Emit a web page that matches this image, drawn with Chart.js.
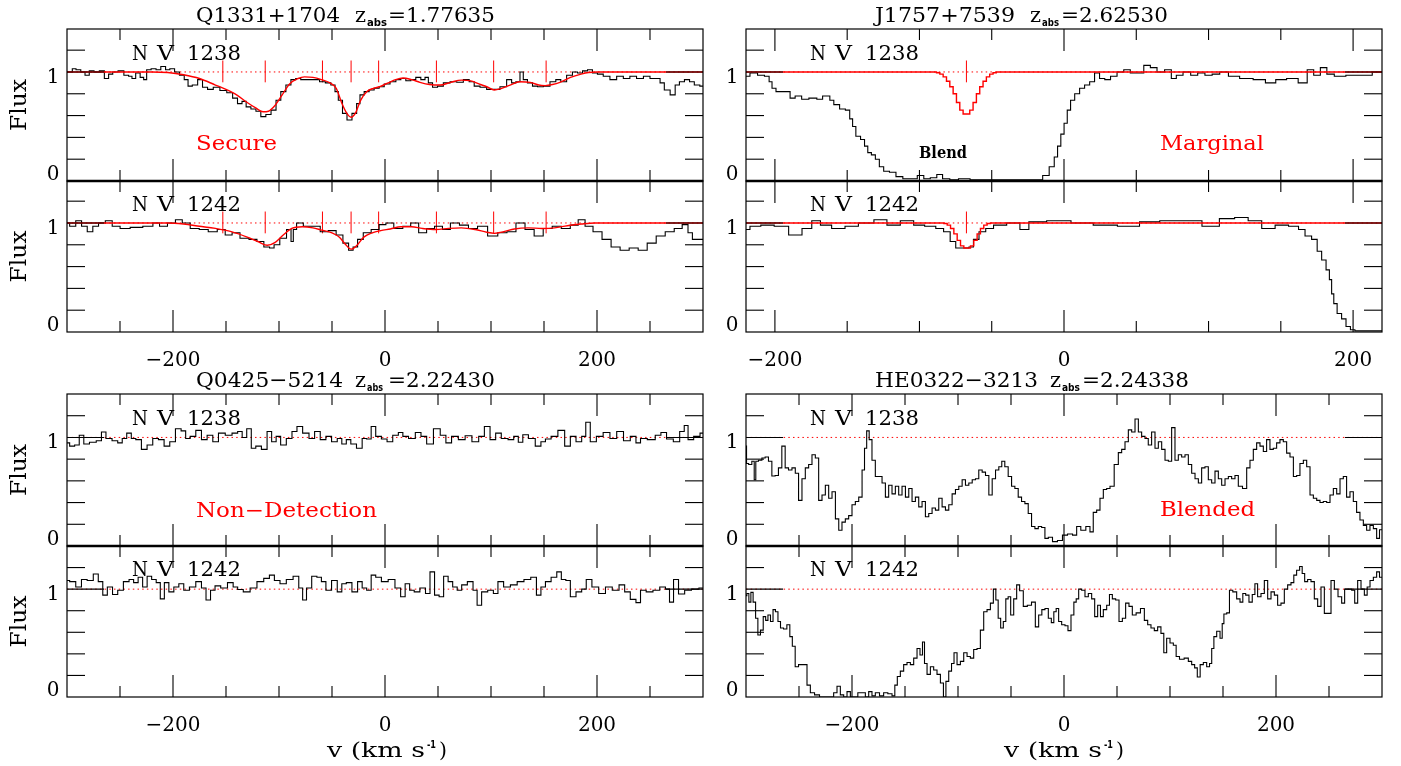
<!DOCTYPE html>
<html>
<head>
<meta charset="utf-8">
<title>N V 1238/1242 velocity plots</title>
<script src="https://cdn.jsdelivr.net/npm/chart.js@4.4.1/dist/chart.umd.min.js"></script>
<style>
  body { margin: 0; background: #fff; }
  #fig { position: relative; width: 1401px; height: 766px; overflow: hidden; }
  #fig canvas { position: absolute; left: 0; top: 0; }
</style>
</head>
<body>
<div id="fig"></div>
<script>
// ---------------------------------------------------------------
// Data: [velocity (km/s), normalised flux]
// ---------------------------------------------------------------
const X_TICK_LABELS = [-200, 0, 200];
const Y_TICK_LABELS = [0, 1];

// Q1331+1704, z_abs = 1.77635  (Secure)
const Q1331_COMPONENTS = [-153, -113, -59, -32, -6, 48.5, 102.5, 152];
const Q1331_NV1238 = [
  [-300,1.00],[-296,1.00],[-294,1.03],[-289,1.02],[-285,1.00],[-281,0.97],[-277,1.01],[-272,1.00],
  [-267,1.01],[-262.5,0.94],[-259,0.98],[-254.7,1.00],[-249,1.01],[-243.7,0.97],[-240,0.96],[-237.4,0.94],
  [-233,0.99],[-229,0.95],[-226.4,0.93],[-223.3,1.02],[-218,1.03],[-214,1.02],[-209,1.05],[-205,1.02],
  [-201,1.03],[-196,1.00],[-191.8,0.97],[-187,0.93],[-184.6,0.87],[-179,0.88],[-174.5,0.93],[-169.8,0.86],
  [-165,0.84],[-159,0.86],[-152.5,0.83],[-146,0.81],[-141.5,0.76],[-136.8,0.71],[-133,0.73],[-129,0.68],
  [-124,0.66],[-119.5,0.64],[-114.8,0.59],[-110,0.61],[-105,0.65],[-100.6,0.74],[-96,0.82],[-91,0.88],
  [-86.5,0.93],[-82,0.94],[-77,0.93],[-70,0.93],[-64.5,0.93],[-59,0.91],[-53.5,0.90],[-48.7,0.88],
  [-45.6,0.82],[-42.5,0.74],[-37.7,0.62],[-34,0.56],[-28.3,0.62],[-25.2,0.71],[-22,0.79],[-17.3,0.82],
  [-12.6,0.835],[-7.9,0.85],[-3.1,0.865],[1.6,0.89],[7.9,0.91],[12.6,0.93],[17.3,0.94],[22,0.92],
  [26.7,0.93],[31.4,0.95],[36.2,0.93],[39.3,0.95],[42.5,0.90],[47.2,0.86],[51.9,0.87],[58.2,0.90],
  [64.5,0.91],[70.8,0.905],[77,0.93],[81.8,0.91],[86.5,0.87],[92.8,0.86],[99,0.84],[105.3,0.84],
  [111.6,0.865],[117.9,0.93],[121,0.90],[125.8,0.91],[128.9,1.00],[132,0.93],[136.8,0.90],[141.5,0.87],
  [146.2,0.865],[152.5,0.87],[158.8,0.91],[163.5,0.93],[168.2,0.91],[174.5,0.97],[179.2,1.00],[184,0.99],
  [188.7,1.01],[193.4,1.02],[198,0.99],[202.8,0.98],[209,0.96],[215.4,0.93],[221.7,0.96],[228,0.94],
  [234,0.96],[240.6,0.94],[247,0.96],[253,0.94],[258,0.94],[261,0.90],[266,0.835],[272,0.79],
  [275.5,0.88],[280,0.91],[285,0.93],[289.6,0.91],[294,0.88],[300,0.87]
];
const Q1331_NV1238_FIT = [
  [-300,1],[-220,1],[-205,0.995],[-190,0.975],[-175,0.94],[-160,0.88],[-150,0.84],[-140,0.79],
  [-130,0.72],[-122,0.67],[-115,0.635],[-110,0.64],[-104,0.69],[-97,0.79],[-90,0.89],[-82,0.94],
  [-76,0.955],[-68,0.95],[-60,0.93],[-52,0.90],[-46,0.85],[-41,0.72],[-36,0.62],[-32,0.585],
  [-28,0.62],[-23,0.74],[-17,0.82],[-11,0.85],[-5,0.865],[3,0.90],[10,0.93],[17,0.945],
  [25,0.93],[33,0.905],[42,0.885],[52,0.88],[62,0.905],[72,0.925],[80,0.92],[90,0.885],
  [97,0.86],[103,0.835],[110,0.85],[118,0.88],[127,0.91],[137,0.905],[145,0.88],[151,0.875],
  [158,0.885],[165,0.905],[175,0.95],[185,0.98],[192,0.995],[200,1],[300,1]
];
const Q1331_NV1242 = [
  [-300,1.00],[-295,0.97],[-288.5,1.02],[-284,0.97],[-277.8,0.92],[-273.5,0.97],[-267,1.00],[-260.7,1.02],
  [-254,0.97],[-245.8,0.95],[-235,0.96],[-222,0.97],[-215.9,1.00],[-209.5,0.97],[-200.9,1.00],[-194.5,1.03],
  [-188,1.00],[-179.5,0.95],[-171,0.94],[-162.5,0.92],[-154,0.94],[-147.5,0.89],[-141,0.91],[-132.6,0.86],
  [-124,0.85],[-117.6,0.83],[-111,0.78],[-106.8,0.77],[-102.5,0.80],[-96,0.86],[-89.8,0.94],[-87.5,0.83],
  [-85.5,0.94],[-81.3,1.00],[-72.8,0.97],[-64.3,0.97],[-57.9,0.92],[-49.3,0.93],[-42.9,0.89],[-36.5,0.815],
  [-32.2,0.75],[-28,0.78],[-23.7,0.85],[-17.3,0.91],[-8.8,0.94],[-2.3,0.985],[4,1.00],[12.6,0.95],
  [21,0.97],[27.5,1.00],[36,0.91],[42.5,0.95],[51,0.97],[57.4,0.94],[66,1.00],[74.5,0.98],
  [83,0.95],[91.6,0.97],[102,0.88],[110.8,0.91],[119.3,0.92],[127.8,1.00],[136.4,0.94],[145,0.88],
  [153.5,0.95],[162,0.97],[170.6,0.95],[179,0.98],[185.5,1.03],[192,0.97],[200.5,0.92],[209,0.85],
  [217.6,0.78],[226,0.75],[234.7,0.77],[243,0.75],[251.7,0.815],[260,0.88],[268.7,0.92],[277,0.95],
  [283.7,0.985],[288,0.91],[292,0.85],[300,0.85]
];
const Q1331_NV1242_FIT = [
  [-300,1],[-205,1],[-190,0.99],[-175,0.97],[-160,0.95],[-145,0.92],[-130,0.87],[-120,0.83],
  [-111,0.795],[-104,0.82],[-96,0.89],[-88,0.95],[-78,0.965],[-68,0.955],[-60,0.935],[-50,0.91],
  [-43,0.87],[-37,0.80],[-32,0.76],[-27,0.79],[-20,0.87],[-12,0.91],[-4,0.93],[5,0.945],
  [15,0.965],[25,0.965],[35,0.95],[48,0.94],[60,0.95],[72,0.955],[85,0.94],[96,0.915],
  [103,0.905],[112,0.92],[122,0.945],[135,0.955],[148,0.95],[160,0.955],[172,0.975],[185,0.99],
  [198,1],[300,1]
];

// J1757+7539, z_abs = 2.62530  (Marginal)
const J1757_COMPONENTS = [-67.5];
const J1757_NV1238 = [
  [-220,0.96],[-214.5,0.99],[-209.5,0.97],[-205,0.96],[-203,0.91],[-201,0.85],[-197.5,0.82],[-191,0.82],
  [-188,0.76],[-184,0.78],[-179,0.75],[-174,0.76],[-168,0.75],[-166,0.78],[-163,0.78],[-161,0.74],
  [-157.5,0.70],[-153,0.66],[-149.5,0.65],[-147,0.57],[-145.5,0.50],[-142.5,0.41],[-139,0.38],[-137,0.32],
  [-134.5,0.26],[-132,0.24],[-129,0.20],[-126.5,0.13],[-123,0.09],[-118.5,0.08],[-114,0.04],[-109,0.02],
  [-104,0.02],[-99,0.05],[-95,0.02],[-90,0.03],[-86,0.06],[-82,0.02],[-76,0.01],[-70,0.02],
  [-60,0.01],[-50,0.01],[-40,0.01],[-30,0.01],[-22,0.01],[-17,0.01],[-12.5,0.05],[-8,0.13],
  [-5.5,0.22],[-3.4,0.32],[-1,0.43],[1.1,0.53],[3.4,0.65],[5.7,0.74],[9.1,0.80],[12.5,0.85],
  [16,0.88],[19.5,0.91],[22.8,0.99],[26.4,0.94],[30,0.93],[34.4,0.96],[39,1.00],[43.7,1.02],
  [48,0.99],[52.9,0.99],[57.5,1.06],[62,1.04],[66.7,1.00],[72.5,1.02],[76,0.94],[79.4,0.97],
  [85.3,1.00],[90,0.97],[95,0.99],[100,0.97],[105,0.98],[110.5,1.00],[117,0.96],[126,0.94],
  [135.7,0.93],[143,0.90],[150,0.93],[158,0.94],[166,0.90],[170.5,1.02],[175,0.97],[179.7,1.04],
  [184,0.98],[190,0.96],[200,0.97],[210,0.97],[216.5,1.00],[220,1.00]
];
const J1757_NV1238_FIT = [
  [-220,1],[-89.35,1],[-87.05,0.993],[-84.75,0.98],[-82.45,0.955],[-80.15,0.915],[-77.85,0.865],
  [-75.55,0.80],[-73.25,0.72],[-70.95,0.65],[-68.65,0.615],[-66.35,0.615],[-64.05,0.65],[-61.75,0.72],
  [-59.45,0.80],[-57.15,0.865],[-54.85,0.915],[-52.55,0.955],[-50.25,0.98],[-47.95,0.993],[-45.65,1],[220,1]
];
const J1757_NV1242 = [
  [-220,0.94],[-214.5,0.97],[-205,0.98],[-196,0.97],[-185,0.89],[-177.5,0.95],[-171.5,1.02],[-165.5,0.98],
  [-156,0.95],[-147,0.97],[-137.5,1.00],[-125.5,1.03],[-119.5,0.98],[-107,1.02],[-101,0.98],[-91.8,0.97],
  [-85.6,0.95],[-81,0.92],[-76.5,0.83],[-73.3,0.77],[-67.3,0.77],[-64.2,0.78],[-61.1,0.85],[-56.5,0.92],
  [-51.8,0.95],[-45.7,0.98],[-33.6,1.00],[-27.4,0.94],[-21.2,1.01],[-2.8,1.02],[12.5,1.00],[27.9,0.98],
  [46,0.97],[58.5,1.01],[74,1.02],[89.4,1.02],[101.5,0.97],[113.5,1.04],[122.6,1.05],[132.2,1.02],
  [141.4,0.95],[150.7,0.98],[160,0.97],[164.5,0.94],[169,0.88],[173.6,0.85],[176.7,0.74],[179.8,0.66],
  [182.8,0.57],[184.4,0.48],[185.9,0.35],[187.4,0.26],[190.5,0.17],[193.6,0.12],[196.6,0.05],[199.7,0.02],
  [202.8,0.01],[210,0.01],[220,0.01]
];
const J1757_NV1242_FIT = [
  [-220,1],[-84.25,1],[-81.95,0.995],[-79.65,0.98],[-77.35,0.95],[-75.05,0.90],[-72.75,0.84],
  [-70.45,0.79],[-68.15,0.77],[-65.85,0.77],[-63.55,0.79],[-61.25,0.84],[-58.95,0.90],[-56.65,0.95],
  [-54.35,0.98],[-52.05,0.995],[-49.75,1],[220,1]
];

// Q0425-5214, z_abs = 2.22430  (Non-Detection)
const Q0425_NV1238 = [
  [-300,0.95],[-295,0.92],[-290.6,0.93],[-286.3,1.02],[-282,0.94],[-275.6,0.955],[-269.2,0.97],[-265.8,1.05],
  [-260.7,0.99],[-254.3,0.97],[-250,0.95],[-245.8,0.99],[-241.5,1.04],[-237.2,0.99],[-233,0.98],[-226.6,0.89],
  [-222.3,0.93],[-215.9,0.99],[-211.6,0.98],[-205.2,0.92],[-200.9,0.96],[-194.5,1.08],[-190.2,1.06],[-185.9,0.99],
  [-181.7,1.01],[-175.3,1.065],[-171,0.98],[-164.6,1.02],[-160.3,0.96],[-153.9,1.04],[-147.5,1.02],[-141.1,1.04],
  [-136.9,1.055],[-132.6,1.00],[-128.3,1.08],[-124,0.90],[-119.8,0.92],[-113.4,0.89],[-109.1,1.055],[-104.8,0.96],
  [-100.6,1.01],[-96.3,0.93],[-89.9,0.99],[-85.6,1.055],[-80.5,1.10],[-74.9,1.04],[-68.5,0.99],[-64.3,1.055],
  [-57.9,0.98],[-53.6,1.01],[-47.2,0.96],[-42.9,0.99],[-38.6,0.94],[-34.4,0.98],[-30.1,0.94],[-23.7,0.90],
  [-19.4,0.99],[-15.2,0.985],[-10.9,1.10],[-6.6,1.01],[-0.2,0.985],[4.1,0.96],[10.5,1.02],[14.7,1.045],
  [19,1.01],[25.4,0.99],[31.8,1.045],[36.1,1.01],[42.5,0.94],[48.9,1.08],[55.3,1.02],[59.6,0.95],
  [66,1.01],[72.4,0.98],[78.8,1.015],[85.2,0.96],[91.6,1.01],[95.9,1.10],[102.3,0.98],[106.5,1.04],
  [112.9,0.99],[119.3,0.98],[123.6,1.01],[127.9,0.955],[132.1,1.025],[138.5,0.99],[145,0.92],[149.2,0.96],
  [153.5,0.985],[159.9,1.01],[166.3,1.065],[172.7,0.92],[177,1.01],[183.4,0.96],[187.7,1.01],[191.1,1.14],
  [196.2,0.96],[202.6,1.01],[209,1.045],[215.4,0.99],[221.8,1.055],[228.2,0.97],[234.6,1.01],[238.9,0.95],
  [243.2,0.99],[251.7,0.98],[258.2,1.02],[262.4,1.045],[268.8,0.985],[275.2,0.96],[280.8,1.055],[283.8,1.11],
  [288,0.98],[294.4,1.01],[300,1.04]
];
const Q0425_NV1242 = [
  [-300,1.08],[-295,1.07],[-288.5,1.02],[-284.2,1.09],[-277.8,1.08],[-272.6,1.14],[-268.4,1.07],[-264.1,0.945],
  [-259.8,1.02],[-254.3,0.95],[-250,0.99],[-243.6,1.07],[-239.3,1.09],[-235,1.06],[-230.8,1.11],[-226.5,1.02],
  [-222.3,1.12],[-218,1.09],[-213.7,1.06],[-210.3,0.91],[-206,1.06],[-201.8,0.975],[-196.6,1.02],[-192.4,1.05],
  [-187.3,0.99],[-181.7,1.02],[-175.3,1.07],[-171,1.01],[-166.7,0.90],[-162.5,0.99],[-158.2,1.03],[-151.8,1.01],
  [-145.4,1.06],[-141.1,1.02],[-136.9,0.997],[-130.5,0.975],[-124,1.01],[-117.6,1.07],[-111.2,1.10],[-106.9,1.13],
  [-101.8,1.08],[-96.3,1.05],[-89.9,1.09],[-83.5,1.12],[-79.2,1.01],[-76.2,0.90],[-71.9,1.01],[-66.4,1.12],
  [-62.1,1.11],[-57.9,1.07],[-53.6,0.99],[-47.2,1.08],[-42.9,0.975],[-38.6,1.05],[-34.4,1.06],[-28,0.975],
  [-23.7,1.07],[-19.4,1.01],[-15.2,0.99],[-10.9,1.13],[-6.6,1.11],[-0.2,1.07],[6.2,1.09],[12.6,1.01],
  [16.9,0.93],[21.1,1.05],[25.4,0.99],[29.7,0.975],[36.1,1.01],[40.3,0.96],[44.6,1.16],[48.9,0.945],
  [53.2,0.93],[57.4,1.12],[61.7,1.07],[66,1.02],[70.2,0.99],[74.5,1.04],[80.9,1.07],[85.2,0.99],
  [88.6,0.85],[93.7,0.975],[100.1,0.99],[104.4,0.96],[108.7,1.07],[115.1,1.02],[121.5,1.04],[127.9,1.07],
  [134.3,1.09],[140.7,1.11],[145,0.945],[149.2,1.02],[153.5,1.07],[159.9,1.11],[164.2,1.16],[168.5,1.09],
  [172.7,1.08],[177,0.93],[183.4,0.975],[187.7,1.00],[192,1.09],[198.4,1.02],[204.8,0.96],[211.2,1.02],
  [217.6,0.99],[224,1.04],[228.2,0.975],[234.6,0.905],[238.9,0.875],[243.2,0.99],[249.6,0.975],[256,0.99],
  [262.4,1.02],[266.7,1.00],[270.1,0.88],[274.3,1.09],[279.5,0.955],[285.9,0.99],[292.3,1.00],[300,1.01]
];

// HE0322-3213, z_abs = 2.24338  (Blended)
const HE0322_NV1238 = [
  [-300,0.92],[-299,0.76],[-296,0.75],[-293,0.78],[-291.5,0.61],[-290,0.78],[-286.5,0.79],[-283.5,0.81],
  [-280.4,0.82],[-277.2,0.78],[-274,0.645],[-271,0.65],[-267.8,0.72],[-264.6,0.92],[-261.5,0.72],[-258.3,0.70],
  [-255,0.72],[-252,0.67],[-248.8,0.42],[-245.6,0.62],[-242.5,0.72],[-239.3,0.75],[-236.2,0.84],[-233,0.81],
  [-229.9,0.42],[-226.7,0.47],[-223.6,0.56],[-220.4,0.44],[-217.3,0.50],[-214,0.25],[-211,0.145],[-207.9,0.22],
  [-204.7,0.25],[-201.6,0.28],[-198.4,0.38],[-195.3,0.41],[-192,0.45],[-189,0.70],[-187.4,0.90],[-184.9,1.06],
  [-182.7,0.98],[-179.6,0.79],[-176.4,0.64],[-173.3,0.64],[-170,0.58],[-167,0.45],[-163.8,0.56],[-160.7,0.48],
  [-157.5,0.55],[-154.4,0.47],[-151.2,0.55],[-148,0.45],[-144.9,0.53],[-141.8,0.41],[-138.6,0.45],[-135.5,0.36],
  [-132.3,0.41],[-129.2,0.27],[-126,0.30],[-122.9,0.35],[-119.7,0.33],[-116.6,0.44],[-113.4,0.36],[-110.3,0.33],
  [-107.1,0.38],[-104,0.48],[-100.8,0.52],[-97.7,0.55],[-94.5,0.61],[-91.4,0.56],[-88.2,0.58],[-85,0.61],
  [-82,0.62],[-78.8,0.70],[-75.6,0.68],[-72.5,0.65],[-69.3,0.47],[-66.2,0.62],[-63,0.70],[-60,0.73],
  [-57.4,0.78],[-54.3,0.73],[-51,0.64],[-47.9,0.55],[-44.8,0.53],[-41.6,0.45],[-38.5,0.41],[-35.3,0.39],
  [-32.2,0.30],[-29,0.18],[-25.9,0.16],[-22.6,0.18],[-19.6,0.17],[-16.4,0.07],[-13.2,0.08],[-8.5,0.04],
  [-3.8,0.05],[0.9,0.10],[5.7,0.11],[10.4,0.10],[13.5,0.18],[18.2,0.145],[23,0.18],[26,0.13],
  [29.2,0.31],[32.4,0.33],[35.5,0.44],[38.7,0.52],[41.8,0.53],[45,0.55],[49.7,0.75],[52.8,0.86],
  [56,0.89],[59.1,0.96],[62.3,1.07],[65.4,1.05],[68.6,1.17],[71.7,1.05],[74.8,1.01],[78,0.99],
  [81,0.93],[84.3,1.05],[87.4,0.90],[90.6,0.96],[93.7,0.89],[96.9,0.79],[100,0.78],[103.1,1.09],
  [106.3,0.79],[109.4,0.84],[112.6,0.82],[115.7,0.84],[118.9,0.75],[122,0.67],[125.2,0.62],[128.3,0.58],
  [131.4,0.72],[134.6,0.73],[137.7,0.61],[140.9,0.58],[144,0.69],[147.2,0.62],[150.3,0.56],[153.5,0.62],
  [156.6,0.64],[159.7,0.62],[162.9,0.65],[166,0.55],[170.8,0.53],[173.9,0.72],[177,0.79],[180.2,0.89],
  [183.3,0.95],[186.5,0.92],[189.6,0.87],[192.7,0.98],[195.9,0.89],[199,0.90],[202.2,0.95],[205.3,0.98],
  [208.5,0.96],[211.6,0.855],[214.8,0.82],[218,0.64],[221,0.65],[224.2,0.76],[227.4,0.79],[230.5,0.73],
  [233.7,0.47],[236.8,0.44],[240,0.42],[243,0.40],[246.2,0.41],[249.4,0.40],[252.5,0.47],[255.7,0.53],
  [258.8,0.48],[262,0.62],[265,0.64],[268.2,0.45],[271.4,0.50],[274.5,0.41],[277.6,0.31],[280.8,0.24],
  [284,0.19],[287,0.145],[290.3,0.19],[293.4,0.16],[296.5,0.07],[298.8,0.15],[300,0.15]
];
const HE0322_NV1242 = [
  [-300,0.94],[-298.4,0.96],[-296.2,0.88],[-294.6,0.97],[-292,0.88],[-289.9,0.73],[-287.7,0.575],[-285,0.62],
  [-282.5,0.745],[-280.4,0.71],[-278.2,0.76],[-275.6,0.70],[-273.4,0.81],[-271,0.79],[-268.7,0.70],[-266.2,0.64],
  [-263,0.63],[-259.9,0.67],[-257.4,0.56],[-255.2,0.47],[-252,0.28],[-248.9,0.30],[-244,0.30],[-240.9,0.11],
  [-237.7,0.04],[-233,0.02],[-228.3,0.0],[-218.9,0.0],[-215.7,0.04],[-212.6,0.10],[-209.4,0.02],[-206.3,0.0],
  [-203.1,0.05],[-200,0.0],[-189,0.04],[-185.8,0.0],[-182.7,0.05],[-179.6,0.01],[-176.4,0.04],[-171.7,0.01],
  [-168.6,0.04],[-163.8,0.03],[-160.7,0.01],[-158.5,0.11],[-156,0.19],[-152.8,0.24],[-149.7,0.30],[-146.5,0.32],
  [-143.4,0.30],[-140.2,0.36],[-137.1,0.45],[-134.6,0.39],[-132.4,0.51],[-130.8,0.31],[-127.6,0.21],[-124.5,0.28],
  [-121.4,0.25],[-118.2,0.21],[-115,0.13],[-112.5,0.0],[-110.3,0.145],[-107.2,0.24],[-105,0.31],[-102.5,0.41],
  [-99.3,0.30],[-96.2,0.33],[-93,0.41],[-89.9,0.375],[-86.8,0.36],[-83.6,0.44],[-80.5,0.45],[-77.3,0.62],
  [-74.2,0.79],[-71,0.81],[-67.9,0.87],[-65.4,1.0],[-63.2,0.90],[-61,0.73],[-58.5,0.64],[-56,0.70],
  [-53.8,0.91],[-51.6,0.93],[-49,0.76],[-45.9,0.91],[-43.4,1.04],[-40.3,0.985],[-36.5,0.84],[-32.7,0.85],
  [-28.6,0.88],[-25.5,0.65],[-22.3,0.76],[-19.5,0.81],[-16.4,0.82],[-13.2,0.73],[-10.7,0.69],[-8.5,0.79],
  [-6.3,0.82],[-3.8,0.70],[-0.6,0.67],[2.5,0.66],[5,0.615],[8.2,0.76],[10.4,0.88],[12.6,0.91],
  [15.1,1.0],[18.2,0.99],[21.4,0.93],[24.5,0.96],[27.7,0.91],[30.2,0.745],[33.3,0.85],[35.5,0.745],
  [38.7,0.81],[41.8,0.85],[44,0.95],[47.2,0.91],[50.3,0.90],[53.5,0.70],[56.6,0.73],[59.7,0.87],
  [62.9,0.84],[66,0.76],[70.1,0.78],[74.2,0.82],[77.4,0.71],[80.5,0.67],[83.6,0.64],[86.8,0.615],
  [89.9,0.65],[93,0.59],[95.3,0.41],[98.4,0.545],[101.6,0.50],[104.7,0.48],[106.9,0.375],[111,0.35],
  [115.7,0.36],[118.9,0.33],[122,0.30],[124.5,0.27],[127,0.185],[129.9,0.30],[133,0.32],[136.2,0.28],
  [138.4,0.31],[140.3,0.45],[142.5,0.56],[145.6,0.61],[148.8,0.545],[149.7,0.68],[152,0.77],[155,0.78],
  [157.2,0.99],[161.3,0.975],[164.5,0.91],[167.6,0.88],[169.8,0.96],[173,0.945],[176,0.88],[179.2,0.95],
  [181,1.05],[184.3,0.93],[187.4,0.96],[190.6,1.08],[193.7,0.91],[196.9,0.975],[200,0.945],[203.1,0.85],
  [206.3,0.87],[209.4,1.0],[212.6,1.04],[215.7,1.06],[217.9,1.13],[221,1.175],[223.6,1.21],[225.8,1.145],
  [228.3,1.07],[231.4,1.09],[234.6,1.07],[237.7,0.91],[240.9,0.84],[244,1.02],[247.2,0.775],[250.3,0.775],
  [253.5,1.08],[256.6,1.0],[260.4,0.93],[263.5,0.87],[266,1.0],[269.8,1.0],[273,0.99],[275.5,0.87],
  [278.6,1.08],[281.8,1.0],[284.9,0.945],[287.1,1.02],[290.3,1.08],[293.4,1.11],[296.5,1.16],[298.8,1.11],
  [300,1.11]
];

// ---------------------------------------------------------------
// Layout / drawing
// ---------------------------------------------------------------
const W = 1401, H = 766;
const RED = '#ff0000';
const SERIF = '"DejaVu Serif", "Liberation Serif", serif';
const F_TEXT = '21px ' + SERIF;
const F_NOTE = '20px ' + SERIF;
const F_SUB = 'bold 11px "DejaVu Sans", sans-serif';
const fig = document.getElementById('fig');

function pts(pairs) { return pairs.map(([x, y]) => ({ x, y })); }

function seg(ctx, x0, y0, x1, y1, w) {
  ctx.lineWidth = w;
  ctx.beginPath(); ctx.moveTo(x0, y0); ctx.lineTo(x1, y1); ctx.stroke();
}

// draws a string with its left edge at x, squeezed/stretched to width w
function fitText(ctx, t) {
  ctx.font = t.font || F_TEXT;
  ctx.fillStyle = t.color || '#000';
  ctx.textAlign = 'left';
  const nat = ctx.measureText(t.s).width;
  ctx.save();
  ctx.translate(t.x, t.y);
  if (t.w) ctx.scale(t.w / nat, 1);
  ctx.fillText(t.s, 0, 0);
  ctx.restore();
}

function lineLabel(x, y, num) {
  return [
    { s: 'N', x: x - 1, y: y, w: 16 },
    { s: 'V', x: x + 24, y: y, w: 17 },
    { s: num, x: x + 54, y: y, w: 54 }
  ];
}

function title(y, parts) {
  return [
    { s: parts[0], x: parts[1], y: y, w: parts[2] },
    { s: 'z', x: parts[3], y: y, w: 11 },
    { s: 'abs', x: parts[3] + 12, y: y + 4, w: parts[4], font: F_SUB },
    { s: parts[5], x: parts[6], y: y, w: 107 }
  ];
}

function axisTitle(cx, y) {
  return [
    { s: 'v (km s', x: cx - 60, y: y, w: 98 },
    { s: '-1', x: cx + 40, y: y - 9, w: 9, font: 'bold 10px "DejaVu Sans", sans-serif' },
    { s: ')', x: cx + 52, y: y, w: 8 }
  ];
}

function makeDecor(p) {
  return {
    id: 'decor',
    afterDraw(chart) {
      const ctx = chart.ctx, a = chart.chartArea;
      const xs = chart.scales.x, ys = chart.scales.y;
      ctx.save();
      ctx.strokeStyle = '#000';
      ctx.lineWidth = 1.2;
      ctx.strokeRect(a.left, a.top, a.right - a.left, a.bottom - a.top);
      if (p.divider) seg(ctx, a.left, a.bottom, a.right, a.bottom, 2.6);

      // inward ticks: minor every 50 km/s, major every 200 km/s
      for (let v = Math.ceil(xs.min / 50) * 50; v < xs.max; v += 50) {
        if (v <= xs.min) continue;
        const px = xs.getPixelForValue(v);
        const len = v % 200 === 0 ? 22 : 11;
        seg(ctx, px, a.top, px, a.top + len, 1.1);
        seg(ctx, px, a.bottom, px, a.bottom - len, 1.1);
      }
      [0.2, 0.4, 0.6, 0.8, 1.0, 1.2].forEach(f => {
        const py = ys.getPixelForValue(f);
        const len = f === 1 ? 37 : 18;
        seg(ctx, a.left, py, a.left + len, py, 1.1);
        seg(ctx, a.right, py, a.right - len, py, 1.1);
      });

      // flux tick labels
      ctx.fillStyle = '#000';
      ctx.font = '20px ' + SERIF;
      ctx.textAlign = 'center';
      Y_TICK_LABELS.forEach(f => {
        const yy = f === 0 ? a.bottom - 1 : ys.getPixelForValue(f) + 11;
        ctx.fillText(String(f), a.left - 14, yy);
      });

      if (p.xLabels) {
        X_TICK_LABELS.forEach(v => {
          const s = v < 0 ? '\u2212' + Math.abs(v) : String(v);
          ctx.fillText(s, xs.getPixelForValue(v), a.bottom + 34);
        });
      }

      if (p.fluxLabel) {
        ctx.save();
        ctx.translate(26, (a.top + a.bottom) / 2);
        ctx.rotate(-Math.PI / 2);
        ctx.font = '22px ' + SERIF;
        const nat = ctx.measureText('Flux').width;
        ctx.scale(52 / nat, 1);
        ctx.textAlign = 'center';
        ctx.fillText('Flux', 0, 0);
        ctx.restore();
      }

      (p.texts || []).forEach(t => fitText(ctx, t));
      ctx.restore();
    }
  };
}

function addPanel(p) {
  const canvas = document.createElement('canvas');
  canvas.width = W;
  canvas.height = H;
  fig.appendChild(canvas);

  const datasets = [];
  if (p.fit) {
    datasets.push({
      data: pts(p.fit), borderColor: RED, borderWidth: 1.4, pointRadius: 0,
      stepped: p.fitStepped ? 'middle' : false,
      cubicInterpolationMode: 'monotone', tension: p.fitStepped ? 0 : 0.4
    });
  }
  datasets.push({
    data: pts(p.flux), borderColor: '#000', borderWidth: 1.1, pointRadius: 0, stepped: 'middle'
  });
  if (p.comps) {
    const tickPts = [];
    p.comps.forEach(v => { tickPts.push({ x: v, y: 0.905 }, { x: v, y: 1.105 }, { x: v, y: null }); });
    datasets.push({ data: tickPts, borderColor: RED, borderWidth: 1, pointRadius: 0, spanGaps: false });
  }
  datasets.push({
    data: [{ x: p.xmin, y: 1 }, { x: p.xmax, y: 1 }],
    borderColor: RED, borderWidth: 1, borderDash: [1.5, 3.2], pointRadius: 0
  });

  new Chart(canvas, {
    type: 'line',
    data: { datasets },
    options: {
      responsive: false,
      animation: false,
      events: [],
      layout: { padding: { left: p.box[0], top: p.box[1], right: W - p.box[2], bottom: H - p.box[3] } },
      scales: {
        x: { type: 'linear', min: p.xmin, max: p.xmax, display: false },
        y: { type: 'linear', min: 0, max: p.ymax, display: false }
      },
      plugins: { legend: { display: false }, tooltip: { enabled: false } }
    },
    plugins: [makeDecor(p)]
  });
}

const LX = [67, 703], RX = [746, 1382];

// Q1331+1704
addPanel({
  box: [LX[0], 29, LX[1], 181], xmin: -300, xmax: 300, ymax: 1.394,
  flux: Q1331_NV1238, fit: Q1331_NV1238_FIT, comps: Q1331_COMPONENTS, divider: true, fluxLabel: true,
  texts: [
    ...title(22, ['Q1331+1704', 196, 144, 355, 20, '=1.77635', 388]),
    ...lineLabel(133, 60, '1238'),
    { s: 'Secure', x: 196, y: 150, w: 81, font: F_NOTE, color: RED }
  ]
});
addPanel({
  box: [LX[0], 181, LX[1], 332], xmin: -300, xmax: 300, ymax: 1.385,
  flux: Q1331_NV1242, fit: Q1331_NV1242_FIT, comps: Q1331_COMPONENTS, xLabels: true, fluxLabel: true,
  texts: lineLabel(133, 211, '1242')
});

// J1757+7539
addPanel({
  box: [RX[0], 29, RX[1], 181], xmin: -220, xmax: 220, ymax: 1.394,
  flux: J1757_NV1238, fit: J1757_NV1238_FIT, fitStepped: true, comps: J1757_COMPONENTS, divider: true,
  texts: [
    ...title(22, ['J1757+7539', 875, 140, 1030, 17, '=2.62530', 1061]),
    ...lineLabel(811, 60, '1238'),
    { s: 'Marginal', x: 1160, y: 150, w: 104, font: F_NOTE, color: RED },
    { s: 'Blend', x: 919, y: 158, w: 48, font: 'bold 16px ' + SERIF }
  ]
});
addPanel({
  box: [RX[0], 181, RX[1], 332], xmin: -220, xmax: 220, ymax: 1.385,
  flux: J1757_NV1242, fit: J1757_NV1242_FIT, fitStepped: true, comps: J1757_COMPONENTS, xLabels: true,
  texts: lineLabel(811, 211, '1242')
});

// Q0425-5214
addPanel({
  box: [LX[0], 394, LX[1], 546], xmin: -300, xmax: 300, ymax: 1.40,
  flux: Q0425_NV1238, divider: true, fluxLabel: true,
  texts: [
    ...title(387, ['Q0425\u22125214', 196, 147, 355, 16, '=2.22430', 388]),
    ...lineLabel(133, 425, '1238'),
    { s: 'Non\u2212Detection', x: 196, y: 517, w: 181, font: F_NOTE, color: RED }
  ]
});
addPanel({
  box: [LX[0], 546, LX[1], 697], xmin: -300, xmax: 300, ymax: 1.40,
  flux: Q0425_NV1242, xLabels: true, fluxLabel: true,
  texts: [...lineLabel(133, 576, '1242'), ...axisTitle(387, 757)]
});

// HE0322-3213
addPanel({
  box: [RX[0], 394, RX[1], 546], xmin: -300, xmax: 300, ymax: 1.40,
  flux: HE0322_NV1238, divider: true,
  texts: [
    ...title(387, ['HE0322\u22123213', 875, 163, 1050, 18, '=2.24338', 1082]),
    ...lineLabel(811, 425, '1238'),
    { s: 'Blended', x: 1160, y: 516, w: 95, font: F_NOTE, color: RED }
  ]
});
addPanel({
  box: [RX[0], 546, RX[1], 697], xmin: -300, xmax: 300, ymax: 1.40,
  flux: HE0322_NV1242, xLabels: true,
  texts: [...lineLabel(811, 576, '1242'), ...axisTitle(1064, 757)]
});
</script>
</body>
</html>
